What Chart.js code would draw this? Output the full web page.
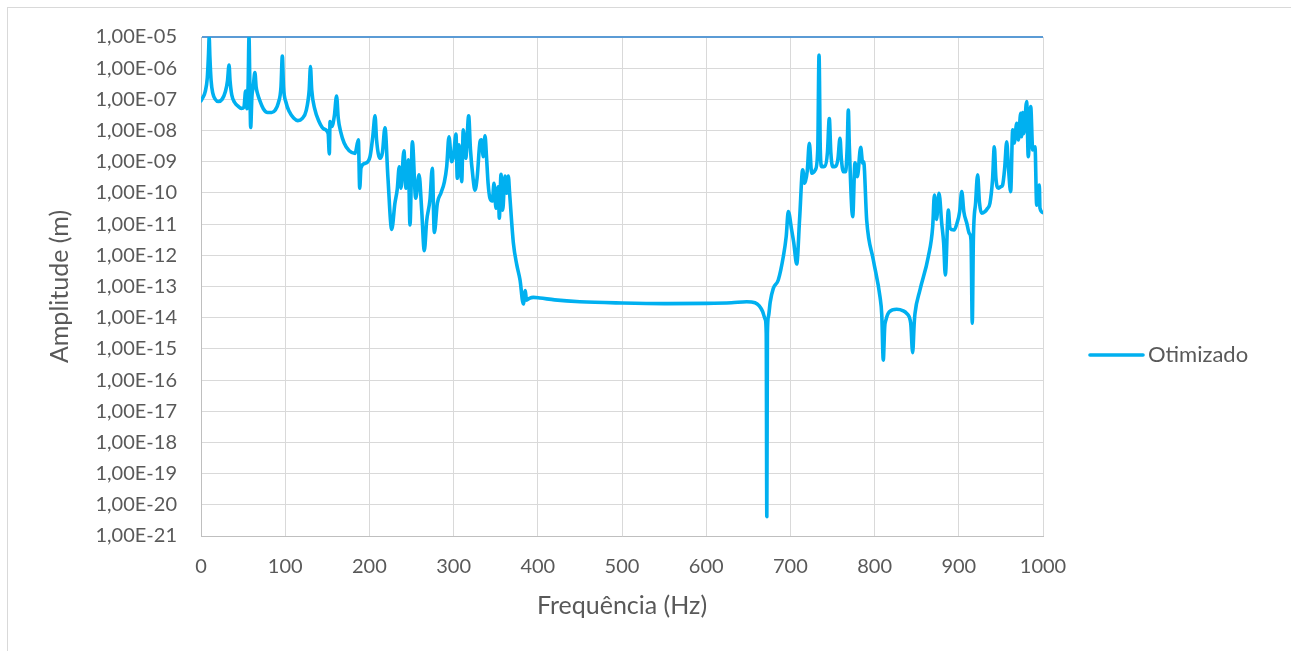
<!DOCTYPE html>
<html>
<head>
<meta charset="utf-8">
<script src="https://cdn.jsdelivr.net/npm/chart.js@4.4.1/dist/chart.umd.min.js"></script>
<style>
  html, body { margin: 0; padding: 0; background: #fff; }
  #wrap { width: 1291px; height: 651px; }
</style>
</head>
<body>
<div id="wrap"><canvas id="ampChart" width="1291" height="651"></canvas></div>
<script>
const seriesName = 'Otimizado';
const xTitle = 'Frequência (Hz)';
const yTitle = 'Amplitude (m)';

const freqHz = [
  0, 2, 5, 7.5, 9, 9.7, 10.5, 12, 14, 17, 20.5, 25, 29, 31.5, 33.3, 34.5, 36.5, 40, 44, 48,
  51, 53, 54.5, 56, 57, 58, 59, 60.5, 62, 64, 65.5, 67, 70, 74, 79, 84, 88, 92, 95, 96.6,
  98, 101, 105, 110, 115, 120, 125, 128.5, 130, 131.5, 135, 140, 146, 151, 152.4, 153.3, 155.5, 158.5, 161, 163,
  166, 170, 176, 183, 186.9, 188.5, 190, 195, 200.7, 204, 206.7, 208.5, 212.6, 215.5, 218.5, 222, 226.5, 230.3, 233, 235.5,
  237.5, 241, 243.5, 246.2, 248.2, 251, 255, 259, 262, 265.2, 268, 272, 274.7, 277.1, 280.7, 285, 289, 291.8, 294.5, 297.7,
  300, 302.8, 304.4, 306.5, 309.6, 311.5, 314.4, 317.9, 320, 323, 325.4, 328, 331.4, 333, 335.3, 337.3, 339, 341, 343.2, 346,
  348, 350.4, 353, 354.3, 356.3, 358.3, 361, 363, 365, 366.5, 371, 375, 378.9, 382.8, 385.2, 386.5, 390, 394.7, 402.6, 420,
  450, 500, 550, 600, 630, 648, 658, 663, 667, 670, 671.3, 672, 672.7, 674, 676, 679.7, 685.6, 691.6, 695, 697.5,
  701.5, 704, 707.5, 711, 714.6, 717, 720, 722.5, 725.3, 729.6, 732.5, 734, 735.5, 737.2, 741, 744, 746.2, 748, 750.2, 753.9,
  756.5, 758.9, 760.5, 762.8, 765.5, 767.5, 768.8, 770, 774, 776.7, 779.5, 783.5, 785.9, 787, 790.6, 798.5, 806.4, 808.5, 810.3, 812,
  813.5, 817.5, 826.2, 834, 838, 842.9, 845.2, 847, 848, 853.9, 863.8, 869, 871, 873.5, 876.5, 879.7, 882, 884, 887.6, 889.5,
  894.3, 897.8, 901, 903.5, 906, 909.5, 912.5, 914.5, 916, 917.3, 920, 922.4, 924.5, 927.1, 931, 934, 937, 940, 942.2, 944,
  946.9, 950, 952, 954.5, 956.9, 959, 961.6, 964, 965.8, 968.8, 970.8, 973.5, 974.6, 975.8, 977.1, 980.6, 982.5, 985.4, 987.8, 990.5,
  992.5, 995.6, 996.4, 1000
];

const amplitudeM = [
  8.91e-8, 1.12e-7, 1.78e-7, 5.01e-7, 3.16e-6, 1e-5, 2.51e-6, 3.98e-7, 1.58e-7, 1.0e-7, 8.51e-8, 1.0e-7, 1.78e-7, 3.98e-7, 1.26e-6, 3.98e-7, 1.41e-7, 7.94e-8, 6.03e-8, 5.13e-8,
  5.62e-8, 1.86e-7, 5.01e-8, 3.16e-7, 1e-5, 3.16e-7, 1.26e-8, 1.26e-7, 2.51e-7, 7.24e-7, 2.51e-7, 1.58e-7, 8.91e-8, 5.01e-8, 3.80e-8, 3.80e-8, 4.47e-8, 7.94e-8, 2.51e-7, 2.45e-6,
  2.51e-7, 7.94e-8, 3.98e-8, 2.51e-8, 2.09e-8, 2.40e-8, 4.47e-8, 2.0e-7, 1.12e-6, 2.0e-7, 5.01e-8, 2.0e-8, 1.12e-8, 8.13e-9, 1.78e-9, 1.95e-8, 1.35e-8, 3.16e-8, 1.29e-7, 2.51e-8,
  8.91e-9, 3.98e-9, 2.24e-9, 1.86e-9, 5.01e-9, 1.41e-10, 6.31e-10, 8.91e-10, 1.45e-9, 6.31e-9, 2.95e-8, 5.01e-9, 1.29e-9, 2.0e-9, 1.23e-8, 3.16e-10, 6.76e-12, 4.68e-11, 1.26e-10, 6.92e-10,
  1.41e-10, 2.24e-9, 1.41e-10, 1.15e-9, 9.33e-12, 4.37e-9, 6.76e-11, 3.80e-10, 3.16e-11, 1.41e-12, 1.26e-11, 6.31e-11, 6.17e-10, 5.37e-12, 4.68e-11, 1.0e-10, 2.24e-10, 6.92e-10, 6.31e-9, 1.0e-9,
  1.58e-9, 7.76e-9, 2.95e-10, 3.47e-9, 2.29e-10, 1.05e-8, 1.29e-9, 2.95e-8, 2.51e-9, 3.16e-10, 1.23e-10, 3.16e-10, 4.37e-9, 5.01e-9, 1.45e-9, 6.76e-9, 1.58e-9, 2.0e-10, 6.76e-11, 5.50e-11,
  2.04e-10, 3.24e-11, 1.58e-10, 1.55e-11, 3.98e-10, 2.82e-11, 3.47e-10, 9.77e-11, 3.47e-10, 1.0e-10, 2.45e-12, 5.01e-13, 1.62e-13, 2.75e-14, 7.41e-14, 3.63e-14, 4.17e-14, 4.47e-14, 4.27e-14, 3.72e-14,
  3.24e-14, 2.95e-14, 2.82e-14, 2.88e-14, 3.02e-14, 3.24e-14, 3.02e-14, 2.40e-14, 1.58e-14, 8.91e-15, 3.16e-15, 4.17e-21, 3.16e-15, 1.12e-14, 3.16e-14, 8.71e-14, 1.62e-13, 9.12e-13, 3.98e-12, 2.51e-11,
  6.46e-12, 2.51e-12, 5.25e-13, 1.58e-11, 5.50e-10, 2.04e-10, 5.01e-10, 3.89e-9, 4.27e-10, 5.50e-10, 2.51e-9, 2.63e-6, 2.51e-9, 6.92e-10, 7.24e-10, 2.0e-9, 2.45e-8, 2.0e-9, 6.92e-10, 7.24e-10,
  1.26e-9, 5.62e-9, 1.26e-9, 4.79e-10, 4.79e-10, 3.16e-9, 4.57e-8, 3.16e-9, 1.74e-11, 9.33e-10, 3.31e-10, 2.88e-9, 8.91e-10, 1.0e-9, 1.35e-11, 7.08e-13, 4.68e-14, 1.26e-14, 4.37e-16, 5.01e-15,
  8.51e-15, 1.55e-14, 1.86e-14, 1.66e-14, 1.38e-14, 6.61e-15, 7.59e-16, 6.31e-15, 1.38e-14, 7.76e-14, 9.12e-13, 8.32e-12, 8.51e-11, 1.41e-11, 9.77e-11, 1.07e-11, 2.51e-12, 2.34e-13, 2.82e-11, 7.41e-12,
  6.46e-12, 1.05e-11, 2.51e-11, 1.10e-10, 2.51e-11, 1.07e-11, 5.01e-12, 3.09e-12, 6.61e-15, 3.16e-12, 5.01e-11, 3.80e-10, 5.01e-11, 2.24e-11, 2.51e-11, 3.16e-11, 4.68e-11, 2.51e-10, 3.02e-9, 3.16e-10,
  1.41e-10, 1.58e-10, 1.78e-10, 6.31e-10, 4.37e-9, 6.31e-10, 1.10e-10, 1.05e-8, 3.98e-9, 1.70e-8, 5.01e-9, 3.55e-8, 6.31e-9, 3.80e-8, 7.94e-9, 8.51e-8, 1.45e-9, 5.89e-8, 2.40e-9, 3.02e-9,
  4.07e-11, 1.78e-10, 3.24e-11, 2.34e-11
];

const xTickValues = [0, 100, 200, 300, 400, 500, 600, 700, 800, 900, 1000];
const xTickLabels = ['0', '100', '200', '300', '400', '500', '600', '700', '800', '900', '1000'];
const yTickValues = [1e-21, 1e-20, 1e-19, 1e-18, 1e-17, 1e-16, 1e-15, 1e-14, 1e-13, 1e-12, 1e-11, 1e-10, 1e-9, 1e-8, 1e-7, 1e-6, 1e-5];
const yTickLabels = ['1,00E-21', '1,00E-20', '1,00E-19', '1,00E-18', '1,00E-17', '1,00E-16', '1,00E-15', '1,00E-14', '1,00E-13',
  '1,00E-12', '1,00E-11', '1,00E-10', '1,00E-09', '1,00E-08', '1,00E-07', '1,00E-06', '1,00E-05'];

const lineColor = '#00b0f0';
const textColor = '#595959';
const gridColor = '#d9d9d9';
const fontFamily = "Lato, 'Open Sans', sans-serif";

const points = freqHz.map((f, i) => ({ x: f, y: amplitudeM[i] }));

// outer frame of the chart object
const framePlugin = {
  id: 'frame',
  beforeDraw(chart) {
    const { ctx } = chart;
    ctx.save();
    ctx.fillStyle = '#ffffff';
    ctx.fillRect(0, 0, chart.width, chart.height);
    ctx.strokeStyle = '#d9d9d9';
    ctx.lineWidth = 1;
    ctx.strokeRect(7.5, 7.5, chart.width + 20, chart.height + 20);
    ctx.restore();
  }
};

// legend drawn to the right of the plot, centred vertically
const sideLegend = {
  id: 'sideLegend',
  afterDraw(chart) {
    const { ctx, chartArea } = chart;
    const ds = chart.data.datasets[0];
    const y = 355;
    const x0 = chartArea.right + 47;
    ctx.save();
    ctx.strokeStyle = ds.borderColor;
    ctx.lineWidth = ds.borderWidth;
    ctx.lineCap = 'round';
    ctx.beginPath();
    ctx.moveTo(x0, y);
    ctx.lineTo(x0 + 53, y);
    ctx.stroke();
    ctx.fillStyle = textColor;
    ctx.font = '22px ' + fontFamily;
    ctx.textBaseline = 'middle';
    ctx.textAlign = 'left';
    ctx.fillText(ds.label, x0 + 58, y);
    ctx.restore();
  }
};

new Chart(document.getElementById('ampChart'), {
  type: 'line',
  data: {
    datasets: [{
      label: seriesName,
      data: points,
      borderColor: lineColor,
      backgroundColor: lineColor,
      borderWidth: 3.6,
      pointRadius: 0,
      fill: false,
      cubicInterpolationMode: 'monotone',
      borderJoinStyle: 'round',
      borderCapStyle: 'round'
    }]
  },
  options: {
    responsive: false,
    animation: false,
    events: [],
    layout: { padding: { top: 37, right: 248, bottom: 0, left: 0 } },
    plugins: {
      legend: { display: false },
      tooltip: { enabled: false }
    },
    scales: {
      x: {
        type: 'linear',
        min: 0,
        max: 1000,
        afterFit: (s) => { s.height = 115; },
        afterBuildTicks: (s) => { s.ticks = xTickValues.map(v => ({ value: v })); },
        grid: { color: gridColor, drawTicks: false },
        border: { color: '#bfbfbf' },
        ticks: {
          padding: 19,
          color: textColor,
          font: { family: fontFamily, size: 20 },
          maxRotation: 0,
          autoSkip: false,
          callback: (value) => {
            const i = xTickValues.indexOf(value);
            return i >= 0 ? xTickLabels[i] : '';
          }
        },
        title: {
          display: true,
          text: xTitle,
          color: textColor,
          font: { family: fontFamily, size: 25 },
          padding: { top: 0, bottom: 30 }
        }
      },
      y: {
        type: 'logarithmic',
        min: 1e-21,
        max: 1e-5,
        afterFit: (s) => { s.width = 201; },
        afterBuildTicks: (s) => { s.ticks = yTickValues.map(v => ({ value: v })); },
        grid: {
          drawTicks: false,
          color: (c) => (c.tick && c.tick.value === 1e-5) ? '#5b9bd5' : gridColor,
          lineWidth: (c) => (c.tick && c.tick.value === 1e-5) ? 2 : 1
        },
        border: { color: '#bfbfbf' },
        ticks: {
          padding: 24,
          color: textColor,
          font: { family: fontFamily, size: 20 },
          autoSkip: false,
          callback: (value) => {
            const i = yTickValues.findIndex(v => Math.abs(Math.log10(v) - Math.log10(value)) < 1e-6);
            return i >= 0 ? yTickLabels[i] : '';
          }
        },
        title: {
          display: true,
          text: yTitle,
          color: textColor,
          font: { family: fontFamily, size: 25 },
          padding: { top: 45, bottom: 0 }
        }
      }
    }
  },
  plugins: [framePlugin, sideLegend]
});
</script>
</body>
</html>
